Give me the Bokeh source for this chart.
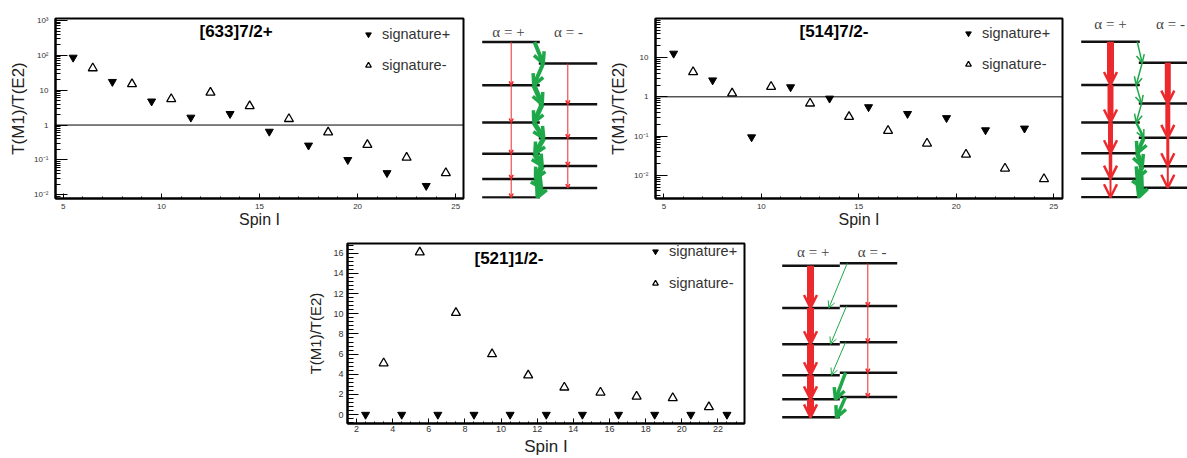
from bokeh.plotting import figure
from bokeh.models import (Range1d, Span, Label, Legend, LegendItem, FixedTicker,
                          SingleIntervalTicker, CustomJSTickFormatter, Arrow, OpenHead, Spacer)
from bokeh.layouts import row, column
from bokeh.embed import file_html
from bokeh.resources import INLINE
from bokeh.core.properties import value

# ------------------------------------------------------------------ data
spin_plus_633 = [5.5, 7.5, 9.5, 11.5, 13.5, 15.5, 17.5, 19.5, 21.5, 23.5]
ratio_plus_633 = [87, 17.5, 4.8, 1.65, 2.1, 0.65, 0.26, 0.10, 0.042, 0.018]
spin_minus_633 = [6.5, 8.5, 10.5, 12.5, 14.5, 16.5, 18.5, 20.5, 22.5, 24.5]
ratio_minus_633 = [43, 15, 5.6, 8.6, 3.5, 1.5, 0.62, 0.27, 0.116, 0.042]

spin_plus_514 = [5.5, 7.5, 9.5, 11.5, 13.5, 15.5, 17.5, 19.5, 21.5, 23.5]
ratio_plus_514 = [12.7, 2.65, 0.094, 1.77, 0.91, 0.55, 0.37, 0.29, 0.142, 0.157]
spin_minus_514 = [6.5, 8.5, 10.5, 12.5, 14.5, 16.5, 18.5, 20.5, 22.5, 24.5]
ratio_minus_514 = [4.3, 1.23, 1.81, 0.68, 0.31, 0.137, 0.065, 0.034, 0.015, 0.0081]

spin_plus_521 = [2.5, 4.5, 6.5, 8.5, 10.5, 12.5, 14.5, 16.5, 18.5, 20.5, 22.5]
ratio_plus_521 = [0.0, 0.0, 0.0, 0.0, 0.0, 0.0, 0.0, 0.0, 0.0, 0.0, 0.0]
spin_minus_521 = [3.5, 5.5, 7.5, 9.5, 11.5, 13.5, 15.5, 17.5, 19.5, 21.5]
ratio_minus_521 = [5.1, 16.1, 10.1, 6.0, 3.9, 2.7, 2.2, 1.8, 1.65, 0.75]

titles = ["[633]7/2+", "[514]7/2-", "[521]1/2-"]
legend_labels = ["signature+", "signature-"]
alpha_labels = ["\u03b1 = +", "\u03b1 = -"]
log_major = [0.01, 0.1, 1, 10, 100, 1000]
log_minor = [k * 10.0 ** e for e in range(-3, 3) for k in range(2, 10)]

# level schemes (depth of each level, signature + / -) and transition widths
lv633_p = [40, 84.3, 122.3, 154.3, 180, 199]
lv633_m = [62, 103.7, 138.3, 166.7, 189.3]
zig633_x = [64, 72.7, 63.3, 71.7, 63.3, 73.3, 64.3, 71.7, 65, 71, 66.7]
zig633_w = [4, 4, 5, 5, 5, 5, 6, 6, 6, 6]

lv514_p = [41.7, 86, 124.3, 155.7, 181.7, 200.7]
lv514_m = [63.3, 105, 140, 169, 191]
e2_514_p_w = [7, 6, 5, 3.5, 2]
e2_514_m_w = [6, 5, 3, 2]
zig514_x = [68.7, 73.7, 67.7, 73, 67.7, 75.3, 68.7, 73.7, 68.7, 73.7, 70.3]
zig514_w = [1.5, 1.5, 1.5, 1.5, 2.5, 4, 5, 5, 6, 6]

lv521_p = [35.7, 79, 116, 147.7, 172.3, 190.7]
lv521_m = [33.3, 77, 114, 145, 170]
e2_521_p_w = [7, 7, 7, 7, 7]
m1_521_x0 = [81.7, 81, 80, 80, 80]
m1_521_x1 = [63.3, 65, 66, 70, 71]
m1_521_w = [1, 1, 1, 3.5, 3.5]

FONT = "Liberation Sans"
RED = "#ec2a2e"
GREEN = "#1fa84a"
TXT = "#333333"

log_fmt = CustomJSTickFormatter(code="""
const e = Math.round(Math.log10(tick));
if (e === 0) return "1";
if (e === 1) return "10";
const sup = {"-": "\u207b", "0": "\u2070", "1": "\u00b9", "2": "\u00b2", "3": "\u00b3",
             "4": "\u2074", "5": "\u2075", "6": "\u2076", "7": "\u2077", "8": "\u2078", "9": "\u2079"};
return "10" + String(e).split("").map(c => sup[c]).join("");
""")


def data_plot(width, height, borders, xr, yr, log, title, title_pos, sp, rp, sm, rm,
              leg_pos, leg_spacing, tick_size, lab_cfg):
    bl, br, bt, bb = borders
    p = figure(width=width, height=height, x_range=Range1d(*xr), y_range=Range1d(*yr),
               y_axis_type="log" if log else "linear", output_backend="svg",
               toolbar_location=None, min_border_left=bl, min_border_right=br,
               min_border_top=bt, min_border_bottom=bb)
    p.grid.visible = False
    p.outline_line_color = "black"
    p.outline_line_width = 2
    p.background_fill_color = "white"
    p.border_fill_color = "white"
    for ax in p.axis:
        ax.axis_line_width = 2
        ax.axis_line_color = "black"
        ax.major_tick_out = 0
        ax.minor_tick_out = 0
        ax.major_tick_line_color = "black"
        ax.minor_tick_line_color = "black"
        ax.major_label_text_font = FONT
        ax.major_label_text_font_size = tick_size
        ax.major_label_text_color = TXT
        ax.axis_label_text_font = FONT
        ax.axis_label_text_font_style = "normal"
        ax.axis_label_text_color = "#222222"
    xa, ya = p.xaxis[0], p.yaxis[0]
    xa.axis_label = "Spin I"
    ya.axis_label = "T(M1)/T(E2)"
    (x_int, x_minor, x_in, x_min_in, x_std, x_lab_std, x_lab_size,
     y_int, y_minor, y_in, y_min_in, y_std, y_lab_std, y_lab_size) = lab_cfg
    xa.ticker = SingleIntervalTicker(interval=x_int, num_minor_ticks=x_minor)
    xa.major_tick_in = x_in
    xa.minor_tick_in = x_min_in
    xa.major_label_standoff = x_std
    xa.axis_label_standoff = x_lab_std
    xa.axis_label_text_font_size = x_lab_size
    if log:
        ya.ticker = FixedTicker(ticks=log_major, minor_ticks=log_minor)
        ya.formatter = log_fmt
        p.add_layout(Span(location=1, dimension="width", line_color="black", line_width=1))
    else:
        ya.ticker = SingleIntervalTicker(interval=y_int, num_minor_ticks=y_minor)
    ya.major_tick_in = y_in
    ya.minor_tick_in = y_min_in
    ya.major_label_standoff = y_std
    ya.axis_label_standoff = y_lab_std
    ya.axis_label_text_font_size = y_lab_size

    r_p = p.scatter(sp, rp, marker="inverted_triangle", size=8, color="black")
    r_m = p.scatter(sm, rm, marker="triangle", size=9, fill_color=None,
                    line_color="black", line_width=1.3)
    p.add_layout(Label(x=title_pos[0], y=title_pos[1], x_units="screen", y_units="screen",
                       text=title, text_font=FONT, text_font_style="bold",
                       text_font_size="17px", text_baseline="middle", text_color="black"))
    leg = Legend(items=[LegendItem(label=legend_labels[0], renderers=[r_p]),
                        LegendItem(label=legend_labels[1], renderers=[r_m])],
                 location=leg_pos, orientation="vertical", border_line_color=None,
                 background_fill_alpha=0, padding=0, margin=0, spacing=leg_spacing,
                 glyph_width=14, glyph_height=18, label_height=18, label_standoff=7,
                 label_text_font=FONT, label_text_font_size="14.5px", label_text_color=TXT)
    p.add_layout(leg)
    return p


def scheme(width, height, bt, bb):
    # frame is aligned with the neighbouring plot's frame; range maps 1:1 to panel pixels
    s = figure(width=width, height=height, x_range=Range1d(0, width),
               y_range=Range1d(height - bb, bt),
               output_backend="svg", toolbar_location=None, min_border=0,
               min_border_top=bt, min_border_bottom=bb,
               x_axis_location=None, y_axis_location=None)
    s.grid.visible = False
    s.outline_line_color = None
    s.background_fill_color = "white"
    s.border_fill_color = "white"
    return s


def levels(s, ys, x0, x1):
    s.segment(x0=[x0] * len(ys), y0=ys, x1=[x1] * len(ys), y1=ys, line_width=2.5, color="#111111")


def arrow(s, x0, y0, x1, y1, w, color, hs, hw):
    s.add_layout(Arrow(x_start=x0, y_start=y0, x_end=x1, y_end=y1, line_width=w,
                       line_color=color, end=OpenHead(size=hs, line_width=hw, line_color=color)))


def alpha_text(s, xs, y):
    s.text(x=xs, y=[y, y], text=alpha_labels, text_font=value("Liberation Serif"),
           text_font_size="15px", text_align="center", text_baseline="middle", text_color="#444444")


# ------------------------------------------------------------------ plots
p1 = data_plot(470, 230, (55, 7, 16, 30), (4.6, 25.4), (10 ** -2.11, 10 ** 3.06), True,
               titles[0], (144, 167), spin_plus_633, ratio_plus_633, spin_minus_633, ratio_minus_633,
               (306, 124), 13, "8px",
               (5, 5, 5, 2, 5, -1, "16px", 1, 1, 12, 5, 7, 3, "17px"))
p2 = data_plot(463, 230, (50, 6, 18, 28), (4.57, 25.45), (10 ** -2.59, 99), True,
               titles[1], (144, 167), spin_plus_514, ratio_plus_514, spin_minus_514, ratio_minus_514,
               (306, 125), 13, "8px",
               (5, 5, 5, 2, 5, -1, "16px", 1, 1, 12, 5, 7, 3, "17px"))
p3 = data_plot(465, 228, (47, 21, 13, 31), (1.5, 23.47), (-0.88, 16.97), False,
               titles[2], (127, 165), spin_plus_521, ratio_plus_521, spin_minus_521, ratio_minus_521,
               (301, 131), 14, "9px",
               (2, 4, 5, 2, 2, 2, "17px", 2, 5, 11, 6, 4, 6, "15px"))

# scheme 1 : [633]7/2+
s1 = scheme(135, 230, 16, 30)
levels(s1, lv633_p, 11.7, 69.3)
levels(s1, lv633_m, 68.3, 126.7)
for i in range(len(lv633_p) - 1):
    arrow(s1, 40.7, lv633_p[i], 40.7, lv633_p[i + 1], 1, RED, 4, 1.5)
for i in range(len(lv633_m) - 1):
    arrow(s1, 97.3, lv633_m[i], 97.3, lv633_m[i + 1], 1, RED, 4, 1.5)
zy = [v for pair in zip(lv633_p, lv633_m + [None]) for v in pair if v is not None]
for i in range(len(zig633_x) - 1):
    arrow(s1, zig633_x[i], zy[i], zig633_x[i + 1], zy[i + 1], zig633_w[i], GREEN, 11, 3.5)
alpha_text(s1, [38, 98], 30)

# scheme 2 : [514]7/2-
s2 = scheme(119, 230, 18, 28)
levels(s2, lv514_p, 12.7, 71.3)
levels(s2, lv514_m, 70.3, 119)
for i in range(len(lv514_p) - 1):
    arrow(s2, 42, lv514_p[i], 42, lv514_p[i + 1], e2_514_p_w[i], RED, 13, 2.5)
for i in range(len(lv514_m) - 1):
    arrow(s2, 99.3, lv514_m[i], 99.3, lv514_m[i + 1], e2_514_m_w[i], RED, 13, 2.5)
zy2 = [v for pair in zip(lv514_p, lv514_m + [None]) for v in pair if v is not None]
for i in range(len(zig514_x) - 1):
    arrow(s2, zig514_x[i], zy2[i], zig514_x[i + 1], zy2[i + 1], zig514_w[i], GREEN,
          8 if zig514_w[i] < 3 else 11, 1.5 if zig514_w[i] < 3 else 3.5)
alpha_text(s2, [42, 102], 24)

# scheme 3 : [521]1/2-
s3 = scheme(140, 228, 13, 31)
levels(s3, lv521_p, 16.7, 74.3)
levels(s3, lv521_m, 74.3, 131.7)
for i in range(len(lv521_p) - 1):
    arrow(s3, 45, lv521_p[i], 45, lv521_p[i + 1], e2_521_p_w[i], RED, 13, 2.5)
for i in range(len(lv521_m) - 1):
    arrow(s3, 102.3, lv521_m[i], 102.3, lv521_m[i + 1], 1, RED, 4, 1.5)
for i in range(len(lv521_m)):
    arrow(s3, m1_521_x0[i], lv521_m[i], m1_521_x1[i], lv521_p[i + 1], m1_521_w[i], GREEN,
          7 if m1_521_w[i] < 2 else 11, 1 if m1_521_w[i] < 2 else 3.5)
alpha_text(s3, [47.7, 106.7], 21.7)

layout = column(row(p1, s1, p2, s2),
                row(Spacer(width=300, height=228), p3, s3))

open("out.html", "w").write(file_html(layout, INLINE))
